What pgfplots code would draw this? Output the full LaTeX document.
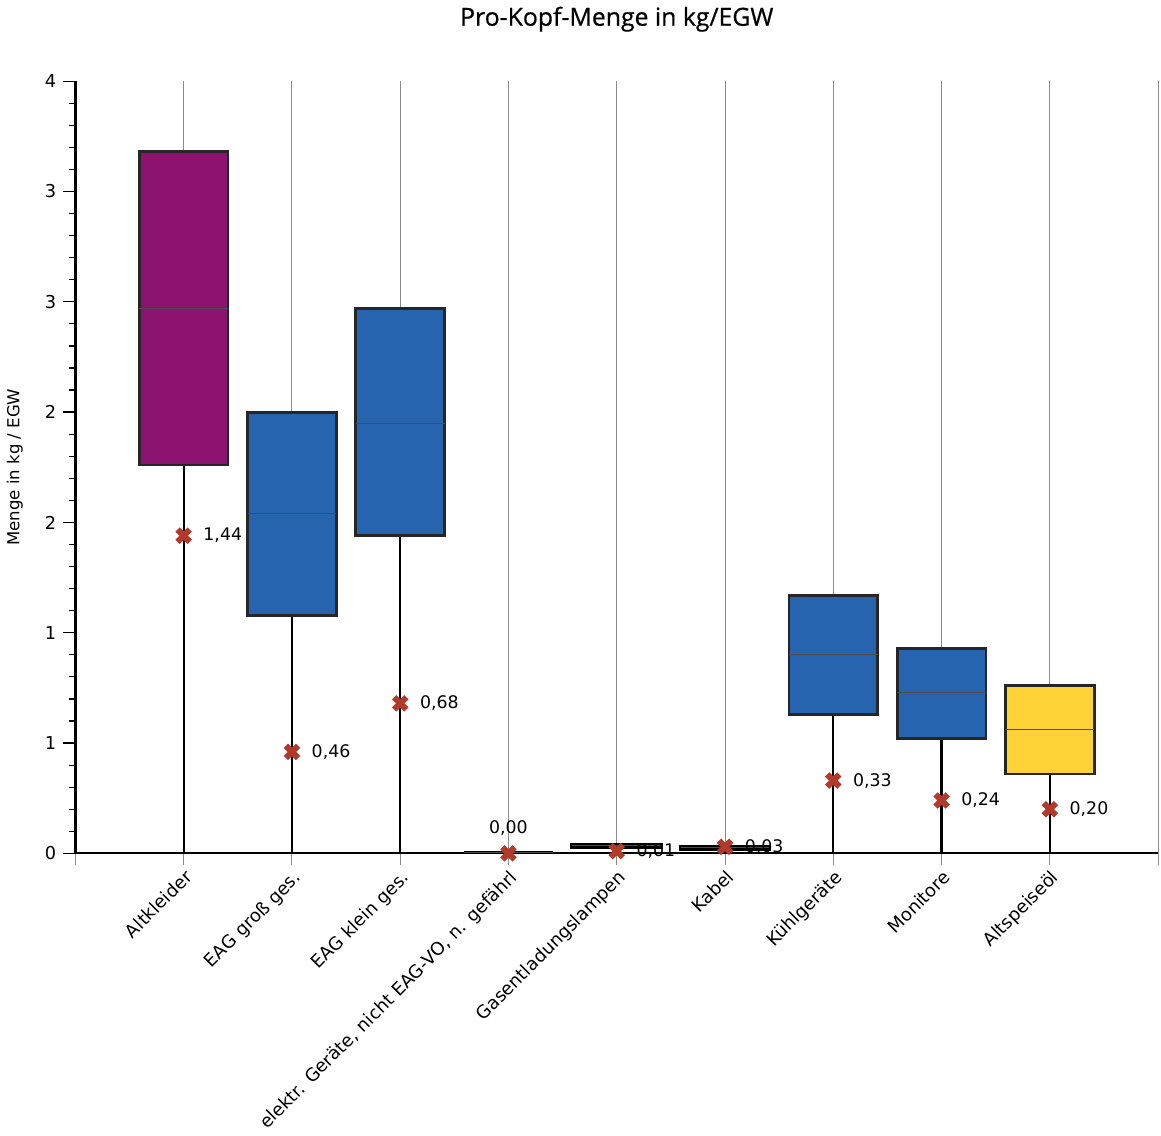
\documentclass[border=0pt]{standalone}
\usepackage{fontspec}
\setmainfont{DejaVu Sans}
\newfontfamily\titlefont[FakeBold=0.6]{Open Sans}
\usepackage{pgfplots}
\usepackage{pgfplotstable}
\usepgfplotslibrary{statistics}
\pgfplotsset{compat=1.18}

\definecolor{cpurple}{RGB}{140,20,112}
\definecolor{cblue}{RGB}{38,100,175}
\definecolor{cyellow}{RGB}{253,210,55}
\definecolor{cred}{RGB}{178,58,42}

\pgfplotsset{
  kbox/.style={
    boxplot/draw direction=y,
    boxplot/box extend=0.82,
    boxplot/whisker extend=0,
    boxplot/every box/.style={draw=black!85, line width=1.4pt},
    boxplot/every whisker/.style={draw=black, line width=1.1pt},
    boxplot/every median/.style={draw=black!70, line width=0.5pt},
  },
}

\pgfplotstableread{
x   y     label
0   1.44  1,44
1   0.46  0,46
2   0.68  0,68
4   0.01  0,01
5   0.03  0,03
6   0.33  0,33
7   0.24  0,24
8   0.20  0,20
}\means

\pgfplotstableread{
x   y     label
3   0.00  0,00
}\meanzero

\begin{document}
\begin{tikzpicture}
\begin{axis}[
  width=537pt, height=383pt, scale only axis,
  xmin=-1, xmax=9, ymin=0, ymax=3.5,
  axis x line=bottom, axis y line=left,
  axis line style={-, black},
  x axis line style={line width=0.9pt},
  y axis line style={line width=1.2pt},
  tick align=outside,
  xtick={-1,0,...,9},
  xticklabels={,Altkleider,EAG groß ges.,EAG klein ges.,{elektr. Geräte, nicht EAG-VO, n. gefährl},Gasentladungslampen,Kabel,Kühlgeräte,Monitore,Altspeiseöl,},
  xticklabel style={rotate=45, anchor=north east, inner sep=1pt, font=\fontsize{8.9}{11}\selectfont},
  x tick style={black!45, line width=0.5pt},
  xmajorgrids, x grid style={black!45, line width=0.5pt},
  ytick={0,0.5,...,3.5},
  yticklabels={0,1,1,2,2,3,3,4},
  minor y tick num=4,
  y tick style={black, line width=0.6pt},
  major tick length=6pt, minor tick length=3pt,
  yticklabel style={font=\fontsize{8.8}{10}\selectfont},
  ylabel={Menge in kg / EGW},
  every axis y label/.style={at={(axis description cs:-0.056,0.5)}, rotate=90, anchor=center, font=\fontsize{8.2}{10}\selectfont},
  title={\titlefont Pro-Kopf-Menge in kg/EGW},
  title style={font=\fontsize{12.3}{14}\selectfont, yshift=15pt},
  clip=false,
]
\addplot[kbox, fill=cpurple, boxplot prepared={draw position=0, lower whisker=0, lower quartile=1.76, median=2.47, upper quartile=3.18, upper whisker=3.18}] coordinates {};
\addplot[kbox, fill=cblue, boxplot prepared={draw position=1, lower whisker=0, lower quartile=1.08, median=1.54, upper quartile=2.00, upper whisker=2.00}] coordinates {};
\addplot[kbox, fill=cblue, boxplot prepared={draw position=2, lower whisker=0, lower quartile=1.44, median=1.95, upper quartile=2.47, upper whisker=2.47}] coordinates {};
\addplot[kbox, fill=black, boxplot/every box/.style={draw=black, line width=1.3pt}, boxplot prepared={draw position=3, lower whisker=0, lower quartile=0.006, median=0.006, upper quartile=0.006, upper whisker=0.006}] coordinates {};
\addplot[kbox, fill=black, boxplot/every box/.style={draw=black, line width=2.2pt}, boxplot prepared={draw position=4, lower whisker=0, lower quartile=0.03, median=0.034, upper quartile=0.038, upper whisker=0.038}] coordinates {};
\addplot[kbox, fill=black, boxplot/every box/.style={draw=black, line width=2pt}, boxplot prepared={draw position=5, lower whisker=0, lower quartile=0.022, median=0.026, upper quartile=0.03, upper whisker=0.03}] coordinates {};
\addplot[kbox, fill=cblue, boxplot prepared={draw position=6, lower whisker=0, lower quartile=0.63, median=0.90, upper quartile=1.17, upper whisker=1.17}] coordinates {};
\addplot[kbox, fill=cblue, boxplot prepared={draw position=7, lower whisker=0, lower quartile=0.52, median=0.73, upper quartile=0.93, upper whisker=0.93}] coordinates {};
\addplot[kbox, fill=cyellow, boxplot prepared={draw position=8, lower whisker=0, lower quartile=0.36, median=0.56, upper quartile=0.76, upper whisker=0.76}] coordinates {};

% Mittelwerte
\addplot[only marks, mark=x, mark size=4.3pt, color=cred, mark options={line width=3pt},
  nodes near coords, point meta=explicit symbolic,
  every node near coord/.append style={anchor=west, xshift=5pt, text=black, font=\fontsize{8.6}{10}\selectfont}]
  table[x=x, y=y, meta=label] {\means};
\addplot[only marks, mark=x, mark size=4.3pt, color=cred, mark options={line width=3pt},
  nodes near coords, point meta=explicit symbolic,
  every node near coord/.append style={anchor=south, yshift=4pt, text=black, font=\fontsize{8.6}{10}\selectfont}]
  table[x=x, y=y, meta=label] {\meanzero};
\end{axis}
\end{tikzpicture}
\end{document}
